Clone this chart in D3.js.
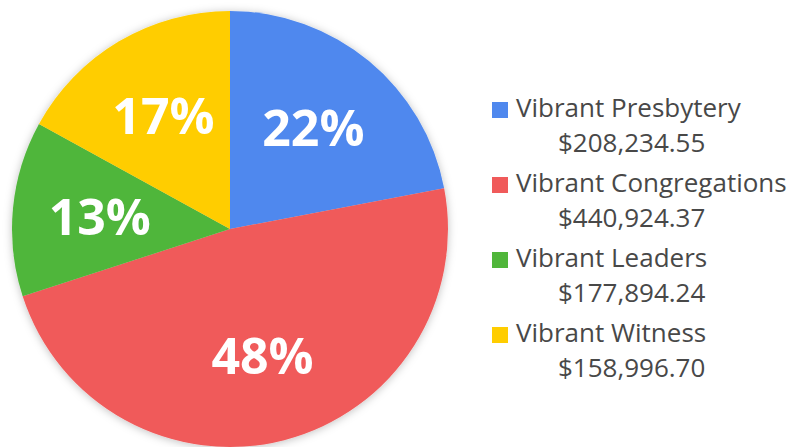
<!DOCTYPE html>
<html>
<head>
<meta charset="utf-8">
<script src="https://cdn.jsdelivr.net/npm/d3@7"></script>
<style>
  body { margin: 0; background: #fff; }
  svg { display: block; }
</style>
</head>
<body>
<div id="chart"></div>
<script>
      // data
      var categories = ["Vibrant Presbytery", "Vibrant Congregations", "Vibrant Leaders", "Vibrant Witness"];
      var amounts = ["$208,234.55", "$440,924.37", "$177,894.24", "$158,996.70"];
      var percents = [22, 48, 13, 17];
      var colors = ["#4f88ee", "#f05a5a", "#50b63a", "#ffcd00"];

      var width = 793,
          height = 447;

      var cx = 230, cy = 229, radius = 218;

      var svg = d3.select("#chart").append("svg")
                .attr("width", width)
                .attr("height", height);

      // soft shadow round the pie
      var defs = svg.append("defs");
      var filter = defs.append("filter")
          .attr("id", "shadow")
          .attr("x", "-10%").attr("y", "-10%")
          .attr("width", "120%").attr("height", "120%");
      filter.append("feDropShadow")
          .attr("dx", 0).attr("dy", 1)
          .attr("stdDeviation", 4)
          .attr("flood-color", "#000")
          .attr("flood-opacity", 0.25);

      var data = categories.map(function(c, i) {
          return {name: c, amount: amounts[i], pct: percents[i], color: colors[i]};
      });

      var pie = d3.pie()
          .sort(null)
          .value(function(d) { return d.pct; });

      var arc = d3.arc()
          .innerRadius(0)
          .outerRadius(radius);

      var labelArc = d3.arc()
          .innerRadius(radius * 0.6)
          .outerRadius(radius * 0.6);

      var g = svg.append("g")
          .attr("transform", "translate(" + cx + "," + cy + ")");

      g.append("g")
          .attr("filter", "url(#shadow)")
          .selectAll("path")
          .data(pie(data))
          .enter()
          .append("path")
          .attr("d", arc)
          .attr("fill", function(d) { return d.data.color; });

      g.append("g")
          .selectAll("text")
          .data(pie(data))
          .enter()
          .append("text")
          .attr("transform", function(d) {
              return "translate(" + labelArc.centroid(d) + ")";
          })
          .attr("text-anchor", "middle")
          .attr("dy", "0.36em")
          .attr("fill", "#fff")
          .style("font-family", "'Open Sans', sans-serif")
          .style("font-weight", "bold")
          .style("font-size", "50px")
          .text(function(d) { return d.data.pct + "%"; });

      // legend
      var legend = svg.append("g")
          .attr("transform", "translate(492,0)");

      var row = d3.scaleLinear()
          .domain([0, 1])
          .range([117, 192]);

      var items = legend.selectAll(".item")
          .data(data)
          .enter()
          .append("g")
          .attr("class", "item")
          .attr("transform", function(d, i) { return "translate(0," + row(i) + ")"; });

      items.append("rect")
          .attr("x", 0)
          .attr("y", -15)
          .attr("width", 16)
          .attr("height", 16)
          .attr("fill", function(d) { return d.color; });

      items.append("text")
          .attr("x", 24)
          .attr("y", 0)
          .attr("fill", "#484848")
          .style("font-family", "'Open Sans', sans-serif")
          .style("font-size", "26px")
          .text(function(d) { return d.name; });

      items.append("text")
          .attr("x", 66)
          .attr("y", 35)
          .attr("fill", "#484848")
          .style("font-family", "'Open Sans', sans-serif")
          .style("font-size", "26px")
          .text(function(d) { return d.amount; });
</script>
</body>
</html>
